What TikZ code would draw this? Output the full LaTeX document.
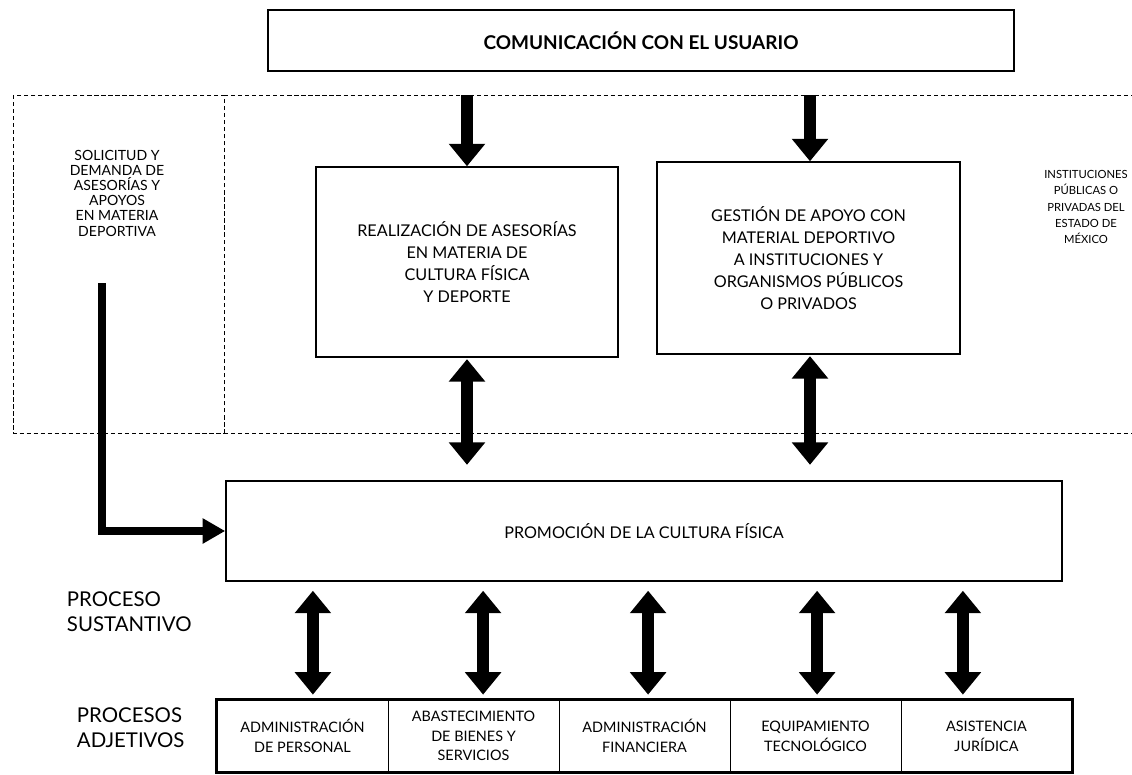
\documentclass[tikz,border=0pt]{standalone}
\usepackage{fontspec}
\setmainfont{Lato}
\usetikzlibrary{arrows.meta}
\begin{document}
\begin{tikzpicture}[x=0.025cm,y=-0.025cm,
    caja/.style={draw,line width=1pt,align=center,inner sep=0pt},
    gruesa/.style={line width=9pt,-{Triangle[width=25pt,length=16pt]}},
    doble/.style={line width=9pt,{Triangle[width=25pt,length=16pt]}-{Triangle[width=25pt,length=16pt]}},
    codo/.style={line width=5pt,-{Triangle[width=17pt,length=16pt]}},
    punteada/.style={line width=0.6pt,dash pattern=on 3pt off 2pt},
    celda/.style={draw,line width=0.6pt,minimum width=4.275cm,minimum height=1.8cm,align=center,inner sep=0pt,font=\fontsize{10.25}{14}\selectfont}]
    \useasboundingbox (0,0) rectangle (1132,775);

    \node[caja,minimum width=18.65cm,minimum height=1.525cm,font=\bfseries\fontsize{13.5}{16}\selectfont] (usuario) at (641,40.5) {COMUNICACIÓN CON EL USUARIO};

    \draw[punteada] (13,95) rectangle (224,433);
    \draw[punteada] (224,95) -- (1132,95) (224,433) -- (1132,433);

    \node[align=center,font=\fontsize{10}{10.8}\selectfont] (solicitud) at (117,193) {SOLICITUD Y\\DEMANDA DE\\ASESORÍAS Y\\APOYOS\\EN MATERIA\\DEPORTIVA};
    \node[align=center,font=\fontsize{8}{11.5}\selectfont] (instituciones) at (1086,207) {INSTITUCIONES\\PÚBLICAS O\\PRIVADAS DEL\\ESTADO DE\\MÉXICO};

    \node[caja,minimum width=7.55cm,minimum height=4.75cm,font=\fontsize{11.5}{15.5}\selectfont] (asesorias) at (467,262) {REALIZACIÓN DE ASESORÍAS\\EN MATERIA DE\\CULTURA FÍSICA\\Y DEPORTE};
    \node[caja,minimum width=7.575cm,minimum height=4.8cm,font=\fontsize{11.5}{15.5}\selectfont] (gestion) at (808.5,258) {GESTIÓN DE APOYO CON\\MATERIAL DEPORTIVO\\A INSTITUCIONES Y\\ORGANISMOS PÚBLICOS\\O PRIVADOS};
    \node[caja,minimum width=20.9cm,minimum height=2.5cm,font=\fontsize{11.5}{15.5}\selectfont] (promocion) at (644,531) {PROMOCIÓN DE LA CULTURA FÍSICA};

    \node[celda] (personal) at (302.5,736) {ADMINISTRACIÓN\\DE PERSONAL};
    \node[celda] (bienes) at (473.5,736) {ABASTECIMIENTO\\DE BIENES Y\\SERVICIOS};
    \node[celda] (financiera) at (644.5,736) {ADMINISTRACIÓN\\FINANCIERA};
    \node[celda] (tecnologico) at (815.5,736) {EQUIPAMIENTO\\TECNOLÓGICO};
    \node[celda] (juridica) at (986.5,736) {ASISTENCIA\\JURÍDICA};
    \draw[line width=2pt] (personal.north west) rectangle (juridica.south east);

    \node[anchor=west,align=left,font=\fontsize{14.5}{18}\selectfont] (sustantivo) at (62,612) {PROCESO\\SUSTANTIVO};
    \node[anchor=west,align=left,font=\fontsize{14.5}{18}\selectfont] (adjetivos) at (72,728) {PROCESOS\\ADJETIVOS};

    \coordinate (baja1) at (467,95);
    \coordinate (baja2) at (810,95);
    \coordinate (demanda) at (102,283);
    \draw[gruesa] (baja1) -- (baja1 |- asesorias.north);
    \draw[gruesa] (baja2) -- (baja2 |- gestion.north);
    \draw[doble,shorten <=1pt,shorten >=11pt] (asesorias.south) -- (asesorias.south |- promocion.north);
    \draw[doble,shorten <=1pt,shorten >=11pt] (baja2 |- gestion.south) -- (baja2 |- promocion.north);
    \draw[codo] (demanda) |- (promocion.west);

    \draw[doble,shorten <=3.5pt,shorten >=6.4pt] ([xshift=0.26cm]personal.north) -- ([xshift=0.26cm]personal.north |- promocion.south);
    \draw[doble,shorten <=3.5pt,shorten >=6.4pt] ([xshift=0.24cm]bienes.north) -- ([xshift=0.24cm]bienes.north |- promocion.south);
    \draw[doble,shorten <=3.5pt,shorten >=6.4pt] ([xshift=0.09cm]financiera.north) -- ([xshift=0.09cm]financiera.north |- promocion.south);
    \draw[doble,shorten <=3.5pt,shorten >=6.4pt] ([xshift=0.04cm]tecnologico.north) -- ([xshift=0.04cm]tecnologico.north |- promocion.south);
    \draw[doble,shorten <=3.5pt,shorten >=6.4pt] ([xshift=-0.59cm]juridica.north) -- ([xshift=-0.59cm]juridica.north |- promocion.south);
\end{tikzpicture}
\end{document}
